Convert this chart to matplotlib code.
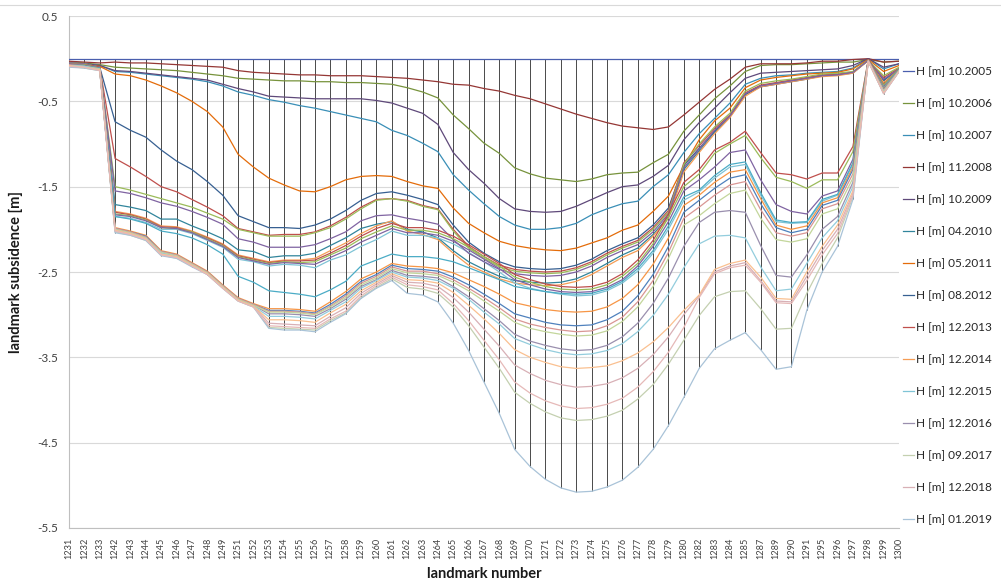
import matplotlib
matplotlib.use("Agg")
import matplotlib.pyplot as plt
from matplotlib.lines import Line2D
import numpy as np

plt.rcParams['font.family'] = ['Lato', 'DejaVu Sans']

# landmark numbers (category axis)
landmarks = [1231, 1232, 1233, 1242, 1243, 1244, 1245, 1246, 1247, 1248,
             1249, 1251, 1252, 1253, 1254, 1255, 1256, 1257, 1258, 1259,
             1260, 1261, 1262, 1263, 1264, 1265, 1266, 1267, 1268, 1269,
             1270, 1271, 1272, 1273, 1274, 1275, 1276, 1277, 1278, 1279,
             1280, 1282, 1283, 1284, 1285, 1287, 1289, 1290, 1291, 1295,
             1296, 1297, 1298, 1299, 1300]

# subsidence per survey [m]
h_2005_10 = [0.0, 0.0, 0.0, 0.0, 0.0, 0.0, 0.0, 0.0, 0.0, 0.0,
             0.0, 0.0, 0.0, 0.0, 0.0, 0.0, 0.0, 0.0, 0.0, 0.0,
             0.0, 0.0, 0.0, 0.0, 0.0, 0.0, 0.0, 0.0, 0.0, 0.0,
             0.0, 0.0, 0.0, 0.0, 0.0, 0.0, 0.0, 0.0, 0.0, 0.0,
             0.0, 0.0, 0.0, 0.0, 0.0, 0.0, 0.0, 0.0, 0.0, 0.0,
             0.0, 0.0, 0.0, 0.0, 0.0]
h_2006_10 = [-0.04, -0.05, -0.07, -0.10, -0.11, -0.12, -0.13, -0.14, -0.16, -0.18,
             -0.20, -0.23, -0.24, -0.25, -0.26, -0.26, -0.27, -0.27, -0.28, -0.28,
             -0.29, -0.30, -0.34, -0.39, -0.46, -0.66, -0.82, -0.99, -1.11, -1.28,
             -1.35, -1.40, -1.42, -1.44, -1.41, -1.36, -1.34, -1.33, -1.22, -1.12,
             -0.85, -0.66, -0.47, -0.32, -0.15, -0.08, -0.07, -0.07, -0.06, -0.05,
             -0.04, -0.04, -0.01, -0.04, -0.03]
h_2007_10 = [-0.05, -0.06, -0.08, -0.15, -0.16, -0.18, -0.20, -0.22, -0.24, -0.27,
             -0.32, -0.39, -0.43, -0.48, -0.51, -0.55, -0.58, -0.62, -0.66, -0.70,
             -0.74, -0.84, -0.90, -0.99, -1.09, -1.36, -1.54, -1.70, -1.85, -1.95,
             -2.00, -2.00, -1.98, -1.93, -1.83, -1.76, -1.70, -1.67, -1.50, -1.36,
             -1.10, -0.88, -0.70, -0.52, -0.30, -0.23, -0.20, -0.19, -0.17, -0.16,
             -0.15, -0.11, 0.0, -0.12, -0.06]
h_2008_11 = [-0.03, -0.04, -0.05, -0.04, -0.05, -0.05, -0.06, -0.07, -0.08, -0.09,
             -0.10, -0.14, -0.16, -0.17, -0.18, -0.19, -0.19, -0.20, -0.20, -0.20,
             -0.21, -0.22, -0.23, -0.25, -0.27, -0.30, -0.31, -0.35, -0.38, -0.43,
             -0.47, -0.53, -0.59, -0.65, -0.70, -0.75, -0.79, -0.81, -0.83, -0.80,
             -0.66, -0.51, -0.36, -0.24, -0.10, -0.06, -0.06, -0.06, -0.05, -0.03,
             -0.03, -0.01, 0.0, -0.04, -0.03]
h_2009_10 = [-0.05, -0.06, -0.08, -0.14, -0.15, -0.17, -0.19, -0.21, -0.23, -0.25,
             -0.30, -0.35, -0.39, -0.44, -0.45, -0.46, -0.47, -0.47, -0.47, -0.47,
             -0.49, -0.52, -0.58, -0.64, -0.77, -1.10, -1.30, -1.46, -1.64, -1.76,
             -1.79, -1.80, -1.79, -1.73, -1.65, -1.57, -1.50, -1.48, -1.38, -1.25,
             -0.95, -0.75, -0.58, -0.40, -0.23, -0.17, -0.16, -0.15, -0.14, -0.13,
             -0.12, -0.08, 0.0, -0.10, -0.06]
h_2010_04 = [-0.06, -0.07, -0.10, -1.71, -1.74, -1.78, -1.88, -1.88, -1.96, -2.03,
             -2.11, -2.24, -2.26, -2.33, -2.31, -2.31, -2.28, -2.19, -2.10, -1.99,
             -1.94, -1.91, -2.00, -2.03, -2.10, -2.25, -2.38, -2.47, -2.55, -2.60,
             -2.62, -2.63, -2.62, -2.58, -2.50, -2.40, -2.30, -2.22, -2.06, -1.85,
             -1.30, -1.08, -0.86, -0.68, -0.42, -0.32, -0.29, -0.26, -0.23, -0.20,
             -0.19, -0.16, -0.02, -0.26, -0.12]
h_2011_05 = [-0.06, -0.07, -0.09, -0.18, -0.20, -0.25, -0.32, -0.40, -0.50, -0.62,
             -0.80, -1.12, -1.27, -1.40, -1.48, -1.55, -1.56, -1.50, -1.42, -1.38,
             -1.37, -1.38, -1.44, -1.49, -1.52, -1.75, -1.93, -2.04, -2.14, -2.19,
             -2.22, -2.24, -2.25, -2.22, -2.16, -2.10, -2.01, -1.95, -1.79, -1.61,
             -1.26, -0.95, -0.73, -0.58, -0.34, -0.25, -0.22, -0.20, -0.18, -0.17,
             -0.16, -0.12, -0.01, -0.15, -0.08]
h_2012_08 = [-0.05, -0.06, -0.10, -0.74, -0.84, -0.92, -1.07, -1.20, -1.30, -1.44,
             -1.60, -1.84, -1.91, -1.98, -1.98, -1.99, -1.95, -1.88, -1.78, -1.66,
             -1.58, -1.56, -1.60, -1.65, -1.71, -1.95, -2.15, -2.28, -2.38, -2.44,
             -2.46, -2.47, -2.46, -2.42, -2.35, -2.25, -2.17, -2.10, -1.95, -1.75,
             -1.25, -1.05, -0.85, -0.68, -0.42, -0.33, -0.30, -0.27, -0.24, -0.20,
             -0.19, -0.17, -0.02, -0.25, -0.12]
h_2013_12 = [-0.05, -0.06, -0.10, -1.17, -1.27, -1.38, -1.50, -1.56, -1.65, -1.74,
             -1.84, -1.99, -2.03, -2.07, -2.06, -2.06, -2.03, -1.96, -1.86, -1.74,
             -1.65, -1.64, -1.66, -1.72, -1.76, -2.00, -2.20, -2.32, -2.42, -2.47,
             -2.49, -2.50, -2.49, -2.45, -2.38, -2.28, -2.20, -2.13, -1.98, -1.78,
             -1.22, -1.02, -0.82, -0.66, -0.40, -0.31, -0.28, -0.25, -0.22, -0.19,
             -0.18, -0.16, -0.02, -0.22, -0.11]
h_2014_12 = [-0.06, -0.07, -0.10, -1.79, -1.82, -1.87, -1.96, -1.97, -2.02, -2.09,
             -2.17, -2.30, -2.34, -2.38, -2.36, -2.36, -2.34, -2.25, -2.16, -2.05,
             -1.96, -1.90, -2.02, -2.06, -2.12, -2.28, -2.42, -2.50, -2.58, -2.63,
             -2.65, -2.66, -2.65, -2.61, -2.53, -2.43, -2.33, -2.25, -2.08, -1.87,
             -1.33, -1.10, -0.88, -0.69, -0.44, -0.33, -0.30, -0.27, -0.24, -0.21,
             -0.20, -0.17, -0.02, -0.28, -0.13]
h_2015_12 = [-0.07, -0.08, -0.12, -1.85, -1.87, -1.92, -2.00, -2.00, -2.05, -2.13,
             -2.21, -2.35, -2.38, -2.43, -2.41, -2.42, -2.45, -2.36, -2.30, -2.20,
             -2.12, -2.02, -2.07, -2.07, -2.10, -2.17, -2.27, -2.38, -2.50, -2.63,
             -2.69, -2.73, -2.76, -2.78, -2.77, -2.72, -2.63, -2.49, -2.28, -2.00,
             -1.66, -1.56, -1.40, -1.27, -1.24, -1.60, -1.91, -1.93, -1.92, -1.67,
             -1.60, -1.24, -0.02, -0.34, -0.13]
h_2016_12 = [-0.08, -0.09, -0.13, -2.00, -2.04, -2.10, -2.28, -2.31, -2.41, -2.51,
             -2.67, -2.82, -2.89, -2.99, -2.99, -3.00, -3.02, -2.93, -2.82, -2.67,
             -2.59, -2.48, -2.54, -2.55, -2.57, -2.67, -2.79, -2.93, -3.07, -3.23,
             -3.31, -3.36, -3.40, -3.42, -3.41, -3.36, -3.26, -3.10, -2.87, -2.57,
             -2.20, -1.92, -1.80, -1.78, -1.80, -2.19, -2.54, -2.56, -2.30, -2.00,
             -1.85, -1.45, -0.03, -0.39, -0.15]
h_2017_09 = [-0.09, -0.11, -0.14, -2.03, -2.07, -2.13, -2.30, -2.34, -2.43, -2.53,
             -2.69, -2.84, -2.91, -3.15, -3.16, -3.17, -3.18, -3.07, -2.98, -2.80,
             -2.68, -2.58, -2.68, -2.70, -2.75, -2.91, -3.13, -3.38, -3.63, -3.91,
             -4.04, -4.14, -4.21, -4.24, -4.23, -4.19, -4.12, -3.99, -3.82, -3.58,
             -3.30, -3.01, -2.79, -2.73, -2.72, -2.93, -3.17, -3.16, -2.75, -2.40,
             -2.10, -1.62, -0.03, -0.41, -0.15]
h_2018_12 = [-0.09, -0.10, -0.13, -2.02, -2.06, -2.12, -2.29, -2.33, -2.42, -2.52,
             -2.68, -2.83, -2.90, -3.10, -3.11, -3.12, -3.13, -3.02, -2.92, -2.75,
             -2.64, -2.54, -2.62, -2.63, -2.67, -2.80, -2.97, -3.17, -3.37, -3.59,
             -3.69, -3.77, -3.82, -3.85, -3.84, -3.81, -3.74, -3.63, -3.47, -3.26,
             -3.00, -2.78, -2.50, -2.43, -2.39, -2.60, -2.84, -2.85, -2.55, -2.25,
             -2.00, -1.58, -0.03, -0.40, -0.15]
h_2019_01 = [-0.10, -0.11, -0.14, -2.04, -2.07, -2.13, -2.31, -2.34, -2.44, -2.53,
             -2.69, -2.84, -2.91, -3.16, -3.18, -3.18, -3.20, -3.09, -2.99, -2.81,
             -2.69, -2.60, -2.75, -2.77, -2.85, -3.10, -3.42, -3.79, -4.16, -4.58,
             -4.78, -4.93, -5.03, -5.08, -5.07, -5.02, -4.94, -4.79, -4.58, -4.30,
             -3.97, -3.63, -3.40, -3.30, -3.21, -3.41, -3.64, -3.61, -2.95, -2.50,
             -2.20, -1.65, -0.03, -0.41, -0.15]
# later surveys (not listed in the legend)
h_extra_1 = [-0.05, -0.06, -0.10, -1.50, -1.54, -1.59, -1.64, -1.69, -1.74, -1.81,
             -1.88, -2.00, -2.04, -2.08, -2.08, -2.08, -2.04, -1.98, -1.88, -1.76,
             -1.66, -1.64, -1.67, -1.73, -1.77, -2.02, -2.22, -2.34, -2.44, -2.49,
             -2.51, -2.52, -2.51, -2.47, -2.40, -2.30, -2.22, -2.15, -2.00, -1.80,
             -1.24, -1.00, -0.80, -0.64, -0.38, -0.29, -0.26, -0.24, -0.21, -0.18,
             -0.17, -0.15, -0.02, -0.20, -0.10]
h_extra_2 = [-0.05, -0.06, -0.10, -1.55, -1.58, -1.63, -1.69, -1.73, -1.79, -1.86,
             -1.94, -2.11, -2.15, -2.21, -2.21, -2.21, -2.18, -2.11, -2.03, -1.90,
             -1.84, -1.83, -1.87, -1.90, -1.94, -2.12, -2.28, -2.38, -2.47, -2.52,
             -2.54, -2.55, -2.54, -2.50, -2.43, -2.33, -2.25, -2.18, -2.03, -1.82,
             -1.28, -1.06, -0.84, -0.67, -0.41, -0.32, -0.29, -0.26, -0.23, -0.20,
             -0.19, -0.16, -0.02, -0.24, -0.12]
h_extra_3 = [-0.06, -0.07, -0.10, -1.80, -1.83, -1.88, -1.97, -1.98, -2.03, -2.10,
             -2.18, -2.31, -2.35, -2.39, -2.37, -2.37, -2.36, -2.28, -2.19, -2.08,
             -1.99, -1.93, -1.98, -1.98, -2.01, -2.08, -2.18, -2.29, -2.40, -2.53,
             -2.59, -2.64, -2.67, -2.68, -2.67, -2.62, -2.52, -2.36, -2.13, -1.82,
             -1.45, -1.30, -1.07, -0.98, -0.85, -1.10, -1.34, -1.36, -1.41, -1.34,
             -1.34, -1.03, -0.01, -0.30, -0.12]
h_extra_4 = [-0.06, -0.07, -0.11, -1.82, -1.84, -1.89, -1.98, -1.99, -2.03, -2.11,
             -2.19, -2.32, -2.36, -2.40, -2.38, -2.39, -2.38, -2.30, -2.22, -2.11,
             -2.03, -1.96, -2.01, -2.01, -2.04, -2.11, -2.21, -2.32, -2.43, -2.56,
             -2.62, -2.67, -2.70, -2.71, -2.70, -2.65, -2.55, -2.40, -2.17, -1.86,
             -1.50, -1.35, -1.11, -1.00, -0.90, -1.16, -1.39, -1.44, -1.52, -1.42,
             -1.42, -1.09, -0.02, -0.31, -0.12]
h_extra_5 = [-0.06, -0.08, -0.11, -1.83, -1.85, -1.90, -1.98, -1.99, -2.04, -2.12,
             -2.20, -2.33, -2.37, -2.41, -2.39, -2.40, -2.41, -2.33, -2.25, -2.15,
             -2.07, -1.99, -2.04, -2.04, -2.07, -2.14, -2.24, -2.35, -2.46, -2.59,
             -2.65, -2.70, -2.73, -2.74, -2.73, -2.68, -2.59, -2.43, -2.20, -1.91,
             -1.55, -1.42, -1.27, -1.10, -1.07, -1.42, -1.71, -1.79, -1.82, -1.61,
             -1.55, -1.18, -0.02, -0.33, -0.13]
h_extra_6 = [-0.07, -0.08, -0.11, -1.85, -1.88, -1.93, -2.02, -2.05, -2.10, -2.18,
             -2.29, -2.55, -2.62, -2.72, -2.74, -2.76, -2.79, -2.71, -2.61, -2.43,
             -2.36, -2.29, -2.32, -2.32, -2.34, -2.38, -2.45, -2.52, -2.59, -2.67,
             -2.70, -2.73, -2.75, -2.76, -2.75, -2.70, -2.61, -2.46, -2.25, -1.96,
             -1.62, -1.54, -1.37, -1.24, -1.21, -1.57, -1.89, -1.92, -1.91, -1.65,
             -1.59, -1.22, -0.02, -0.34, -0.13]
h_extra_7 = [-0.07, -0.08, -0.12, -1.98, -2.02, -2.07, -2.25, -2.29, -2.39, -2.49,
             -2.65, -2.80, -2.87, -2.93, -2.93, -2.94, -2.96, -2.85, -2.73, -2.58,
             -2.50, -2.40, -2.43, -2.44, -2.46, -2.51, -2.59, -2.67, -2.76, -2.86,
             -2.90, -2.94, -2.96, -2.97, -2.96, -2.91, -2.81, -2.65, -2.41, -2.10,
             -1.72, -1.60, -1.45, -1.33, -1.30, -1.64, -1.95, -2.00, -1.96, -1.69,
             -1.63, -1.27, -0.02, -0.35, -0.14]
h_extra_8 = [-0.07, -0.08, -0.12, -1.99, -2.03, -2.08, -2.26, -2.30, -2.40, -2.50,
             -2.66, -2.81, -2.88, -2.95, -2.95, -2.96, -2.98, -2.88, -2.76, -2.61,
             -2.53, -2.42, -2.46, -2.47, -2.49, -2.56, -2.65, -2.76, -2.87, -2.99,
             -3.04, -3.09, -3.12, -3.13, -3.12, -3.06, -2.96, -2.78, -2.53, -2.20,
             -1.80, -1.66, -1.52, -1.40, -1.36, -1.70, -1.98, -2.04, -2.00, -1.72,
             -1.66, -1.30, -0.02, -0.36, -0.14]
h_extra_9 = [-0.07, -0.09, -0.12, -1.99, -2.03, -2.09, -2.26, -2.30, -2.40, -2.50,
             -2.66, -2.81, -2.88, -2.96, -2.96, -2.97, -2.99, -2.90, -2.78, -2.63,
             -2.55, -2.44, -2.49, -2.49, -2.52, -2.59, -2.69, -2.80, -2.92, -3.05,
             -3.11, -3.15, -3.18, -3.20, -3.19, -3.13, -3.03, -2.85, -2.60, -2.27,
             -1.87, -1.74, -1.60, -1.48, -1.44, -1.77, -2.04, -2.08, -2.04, -1.76,
             -1.70, -1.35, -0.02, -0.37, -0.14]
h_extra_10 = [-0.08, -0.09, -0.12, -2.00, -2.04, -2.10, -2.27, -2.31, -2.41, -2.51,
              -2.67, -2.82, -2.89, -2.97, -2.97, -2.98, -3.00, -2.91, -2.80, -2.65,
              -2.57, -2.46, -2.51, -2.52, -2.54, -2.62, -2.72, -2.84, -2.96, -3.09,
              -3.16, -3.20, -3.23, -3.25, -3.24, -3.19, -3.08, -2.91, -2.67, -2.34,
              -1.95, -1.84, -1.70, -1.58, -1.54, -1.87, -2.12, -2.15, -2.11, -1.82,
              -1.76, -1.40, -0.03, -0.38, -0.14]
h_extra_11 = [-0.08, -0.09, -0.13, -2.01, -2.05, -2.11, -2.28, -2.32, -2.42, -2.52,
              -2.68, -2.83, -2.90, -3.02, -3.02, -3.03, -3.05, -2.95, -2.85, -2.69,
              -2.60, -2.50, -2.56, -2.57, -2.60, -2.69, -2.82, -2.97, -3.11, -3.28,
              -3.35, -3.41, -3.45, -3.47, -3.46, -3.42, -3.34, -3.20, -3.01, -2.76,
              -2.45, -2.17, -2.08, -2.07, -2.10, -2.44, -2.72, -2.70, -2.40, -2.10,
              -1.90, -1.50, -0.03, -0.39, -0.15]
h_extra_12 = [-0.08, -0.10, -0.13, -2.01, -2.05, -2.11, -2.29, -2.32, -2.42, -2.52,
              -2.68, -2.83, -2.90, -3.06, -3.06, -3.07, -3.09, -2.98, -2.88, -2.72,
              -2.62, -2.52, -2.59, -2.60, -2.63, -2.74, -2.89, -3.05, -3.22, -3.41,
              -3.50, -3.56, -3.61, -3.63, -3.62, -3.60, -3.54, -3.45, -3.32, -3.15,
              -2.95, -2.77, -2.47, -2.40, -2.36, -2.56, -2.81, -2.82, -2.50, -2.20,
              -1.95, -1.55, -0.03, -0.40, -0.15]
h_extra_13 = [-0.09, -0.10, -0.14, -2.02, -2.06, -2.12, -2.30, -2.33, -2.43, -2.53,
              -2.69, -2.84, -2.91, -3.13, -3.14, -3.15, -3.16, -3.05, -2.96, -2.78,
              -2.66, -2.56, -2.65, -2.67, -2.71, -2.87, -3.07, -3.30, -3.53, -3.79,
              -3.92, -4.01, -4.07, -4.10, -4.09, -4.05, -3.98, -3.85, -3.67, -3.44,
              -3.15, -2.80, -2.52, -2.45, -2.42, -2.62, -2.86, -2.87, -2.60, -2.30,
              -2.05, -1.60, -0.03, -0.41, -0.15]

# legend order (first 15 entries) followed by the unlisted surveys
series_labels = ["H [m] 10.2005", "H [m] 10.2006", "H [m] 10.2007", "H [m] 11.2008",
                 "H [m] 10.2009", "H [m] 04.2010", "H [m] 05.2011", "H [m] 08.2012",
                 "H [m] 12.2013", "H [m] 12.2014", "H [m] 12.2015", "H [m] 12.2016",
                 "H [m] 09.2017", "H [m] 12.2018", "H [m] 01.2019"]
series_values = [h_2005_10, h_2006_10, h_2007_10, h_2008_11, h_2009_10, h_2010_04,
                 h_2011_05, h_2012_08, h_2013_12, h_2014_12, h_2015_12, h_2016_12,
                 h_2017_09, h_2018_12, h_2019_01,
                 h_extra_1, h_extra_2, h_extra_3, h_extra_4, h_extra_5, h_extra_6,
                 h_extra_7, h_extra_8, h_extra_9, h_extra_10, h_extra_11, h_extra_12,
                 h_extra_13]
series_colors = ["#4a5fae", "#77933c", "#3a8fb7", "#953735", "#5f497a", "#31859c",
                 "#e46c0a", "#376092", "#c0504d", "#f59d56", "#7fc4d6", "#9a8fae",
                 "#c4d0b0", "#d8b0b6", "#a9c3d8",
                 "#9bbb59", "#8064a2", "#c0504d", "#9bbb59", "#8064a2", "#4bacc6",
                 "#f79646", "#4f81bd", "#d99694", "#c3d69b", "#93cddd", "#fac090",
                 "#e6b9b8"]

fig = plt.figure(figsize=(10.01, 5.83), dpi=100)
W, H = 1001, 583
ax = fig.add_axes([69 / W, 1 - 528 / H, (899 - 69) / W, (528 - 16) / H])

x = np.arange(len(landmarks))
data = np.array(series_values)

# high-low lines
ax.vlines(x, data.min(axis=0), data.max(axis=0), color="#3c3c3c", lw=0.65, zorder=2)

handles = []
for vals, col in zip(series_values, series_colors):
    ln, = ax.plot(x, vals, color=col, lw=0.9, zorder=3)
    handles.append(ln)

ax.set_xlim(0, len(landmarks) - 1)
ax.set_ylim(-5.5, 0.5)
yt = [0.5, -0.5, -1.5, -2.5, -3.5, -4.5, -5.5]
ax.set_yticks(yt)
ax.set_yticklabels([str(v) for v in yt], fontsize=8.5, color="#404040")
ax.yaxis.grid(True, color="#d9d9d9", lw=0.8, zorder=0)
ax.set_axisbelow(True)
ax.set_xticks(x)
ax.set_xticklabels([str(v) for v in landmarks], rotation=90, fontsize=6.6, color="#404040")
ax.tick_params(axis="y", length=0, pad=8)
ax.tick_params(axis="x", length=0, pad=7)
for s in ["top", "right"]:
    ax.spines[s].set_visible(False)
for s in ["left", "bottom"]:
    ax.spines[s].set_color("#bfbfbf")
    ax.spines[s].set_linewidth(0.8)

fig.text(484 / W, 1 - 574 / H, "landmark number", fontsize=10.5, fontweight="bold",
         ha="center", va="center", color="#1a1a1a")
ax.set_ylabel("landmark subsidence [m]", fontsize=10.5, fontweight="bold", labelpad=10,
              color="#1a1a1a")

fig.legend(handles[:15], series_labels, loc="upper left",
           bbox_to_anchor=(903 / W, 1 - 66 / H), frameon=False, fontsize=8.5,
           borderpad=0, borderaxespad=0, handlelength=0.9, handletextpad=0.2,
           labelspacing=1.78, labelcolor="#262626")

fig.add_artist(Line2D([0, 1], [1 - 5 / H, 1 - 5 / H], color="#d9d9d9", lw=0.8))

fig.savefig("out.png", dpi=100)
